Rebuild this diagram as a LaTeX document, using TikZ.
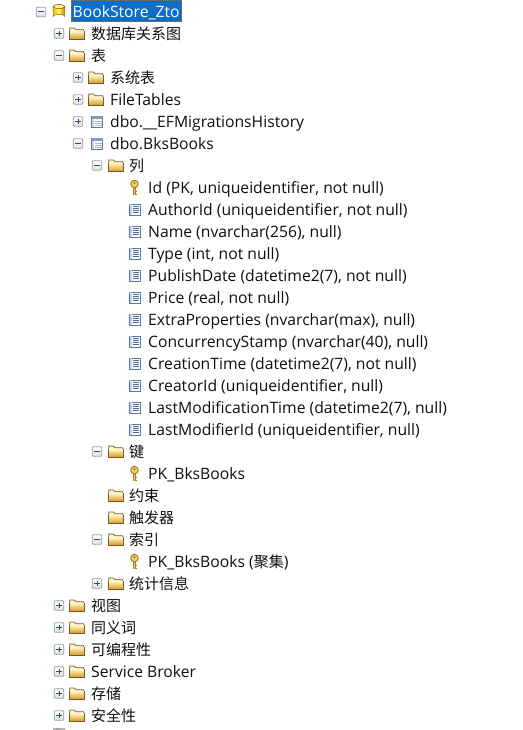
\documentclass[tikz,border=0pt]{standalone}
\usepackage{fontspec}
\setmainfont{Open Sans}
\newfontfamily\cjk[Scale=0.955]{Noto Sans CJK SC}
\usetikzlibrary{calc}
\definecolor{sel}{HTML}{0A6FC9}
\definecolor{boxl}{HTML}{9A9A9A}
\definecolor{sign}{HTML}{2C4A80}
\definecolor{txt}{HTML}{101010}
\definecolor{foldtop}{HTML}{FFF4C4}
\definecolor{foldbot}{HTML}{DC9A20}
\definecolor{foldedge}{HTML}{6E5A34}
\definecolor{keyedge}{HTML}{A87820}
\definecolor{keyfill}{HTML}{F4CC60}
\definecolor{coledge}{HTML}{5A78AC}
\definecolor{colline}{HTML}{4A6A9C}
\definecolor{colside}{HTML}{C4D4EC}
\tikzset{
  x=1pt,y=-1pt,
  lbl/.style={anchor=west,inner sep=0pt,text=txt,font=\fontsize{15.7}{18}\selectfont,text height=11.5pt,text depth=2pt},
  zh/.style={lbl,font=\fontsize{15.7}{18}\selectfont\cjk},
  pics/expbox/.style={code={
    \draw[boxl,line width=.8pt,rounded corners=.8pt,top color=white,bottom color=black!12] (-4.7,-4.7) rectangle (4.7,4.7);
    \draw[sign,line width=1pt] (-2.6,0) -- (2.6,0);
    \ifnum#1=1 \draw[sign,line width=1pt] (0,-2.6) -- (0,2.6);\fi
  }},
  pics/foldericon/.style={code={
    \fill[foldtop] (-7.3,-5.5) -- (-2.5,-5.5) -- (-1,-3.8) -- (6.8,-3.8) -- (6.8,0) -- (-7.3,0) -- cycle;
    \draw[foldedge,line width=.7pt] (-7.3,-2) -- (-7.3,-5.5) -- (-2.5,-5.5) -- (-1,-3.8) -- (6.8,-3.8) -- (6.8,-2);
    \fill[top color=foldtop,bottom color=foldbot] (-7.3,-2.2) -- (7.3,-2.2) -- (7.3,5.5) -- (-7.3,5.5) -- cycle;
    \draw[foldedge,line width=.7pt] (-7.3,-2.2) -- (-7.3,5.5) -- (7.3,5.5) -- (7.3,-2.2);
  }},
  pics/keyicon/.style={code={
    \draw[keyedge,line width=2.8pt] (-.5,-1) -- (-.5,7.5);
    \draw[keyfill,line width=1.4pt] (-.5,-1) -- (-.5,7.5);
    \draw[keyedge,line width=1.4pt] (0,4) -- (2.2,4) (0,6.8) -- (2.2,6.8);
    \draw[keyedge,fill=keyfill,line width=.9pt] (-.5,-3.5) circle (3.8);
    \fill[keyedge] (-.5,-4.6) circle (1.1);
  }},
  pics/colicon/.style={code={
    \draw[coledge,fill=white,line width=.8pt] (-5.3,-5.5) rectangle (5.3,5.5);
    \fill[colside] (-4.9,-5.1) rectangle (-2.8,5.1);
    \foreach \yy in {-3,-1,1,3}{\draw[colline,line width=.9pt] (-1.6,\yy) -- (3.6,\yy);}
  }},
  pics/tableicon/.style={code={
    \draw[coledge,fill=white,line width=.8pt] (-5.5,-5.5) rectangle (5.8,5.5);
    \fill[coledge!75] (-5.5,-5.5) rectangle (5.8,-2.8);
    \fill[colside] (-5.1,-2.8) rectangle (-2.8,5.1);
    \foreach \yy in {-.5,1.7,3.8}{\draw[colside!70!coledge,line width=.7pt] (-2.4,\yy) -- (5,\yy);}
  }},
  pics/dbicon/.style={code={
    \fill[left color=orange!55!yellow,right color=orange!85!black,middle color=yellow!65!white]
      (-5.8,-5) -- (-5.8,4.8) arc[start angle=180,end angle=360,x radius=5.8,y radius=2] -- (5.8,-5) -- cycle;
    \fill[yellow!50!white,draw=black!50!orange,line width=.5pt] (0,-5) ellipse[x radius=5.8,y radius=2];
    \draw[black!50,line width=.5pt] (-5.8,-5) -- (-5.8,4.8) arc[start angle=180,end angle=360,x radius=5.8,y radius=2] -- (5.8,-5);
  }},
}
% #1 row, #2 expander (0 none,1 plus,2 minus), #3 expander x, #4 icon pic, #5 icon x, #6 label style, #7 text x, #8 text
\newcommand{\TreeRow}[8]{%
  \ifnum#2=1 \pic at (#3,{11.5+22*#1}) {expbox=1};\fi
  \ifnum#2=2 \pic at (#3,{11.5+22*#1}) {expbox=0};\fi
  \pic at (#5,{11.5+22*#1}) {#4};
  \node[#6] (row#1) at (#7,{12.8+22*#1}) {#8};
}
\begin{document}
\begin{tikzpicture}
\useasboundingbox (0,0) rectangle (522,730);
\fill[white] (0,0) rectangle (522,730);
\fill[sel] (71,0) rectangle (182,22);
\draw[orange!80!black,line width=.7pt,dash pattern=on 1pt off 1pt] (71.4,.4) rectangle (181.6,21.6);
\pic at (41,12) {expbox=0};
\pic at (59,11.5) {dbicon};
\node[lbl,text=white] (row0) at (72.5,12.8) {BookStore\_Zto};
\TreeRow{1}{1}{59}{foldericon}{77}{zh}{91}{数据库关系图}
\TreeRow{2}{2}{59}{foldericon}{77}{zh}{91}{表}
\TreeRow{3}{1}{78}{foldericon}{96}{zh}{110}{系统表}
\TreeRow{4}{1}{78}{foldericon}{96}{lbl}{110}{FileTables}
\TreeRow{5}{1}{78}{tableicon}{97}{lbl}{110}{dbo.\_\_EFMigrationsHistory}
\TreeRow{6}{2}{78}{tableicon}{97}{lbl}{110}{dbo.BksBooks}
\TreeRow{7}{2}{97}{foldericon}{116}{zh}{129}{列}
\TreeRow{8}{0}{0}{keyicon}{135}{lbl}{148}{Id (PK, uniqueidentifier, not null)}
\TreeRow{9}{0}{0}{colicon}{135}{lbl}{148}{AuthorId (uniqueidentifier, not null)}
\TreeRow{10}{0}{0}{colicon}{135}{lbl}{148}{Name (nvarchar(256), null)}
\TreeRow{11}{0}{0}{colicon}{135}{lbl}{148}{Type (int, not null)}
\TreeRow{12}{0}{0}{colicon}{135}{lbl}{148}{PublishDate (datetime2(7), not null)}
\TreeRow{13}{0}{0}{colicon}{135}{lbl}{148}{Price (real, not null)}
\TreeRow{14}{0}{0}{colicon}{135}{lbl}{148}{ExtraProperties (nvarchar(max), null)}
\TreeRow{15}{0}{0}{colicon}{135}{lbl}{148}{ConcurrencyStamp (nvarchar(40), null)}
\TreeRow{16}{0}{0}{colicon}{135}{lbl}{148}{CreationTime (datetime2(7), not null)}
\TreeRow{17}{0}{0}{colicon}{135}{lbl}{148}{CreatorId (uniqueidentifier, null)}
\TreeRow{18}{0}{0}{colicon}{135}{lbl}{148}{LastModificationTime (datetime2(7), null)}
\TreeRow{19}{0}{0}{colicon}{135}{lbl}{148}{LastModifierId (uniqueidentifier, null)}
\TreeRow{20}{2}{97}{foldericon}{116}{zh}{129}{键}
\TreeRow{21}{0}{0}{keyicon}{135}{lbl}{148}{PK\_BksBooks}
\TreeRow{22}{0}{0}{foldericon}{116}{zh}{129}{约束}
\TreeRow{23}{0}{0}{foldericon}{116}{zh}{129}{触发器}
\TreeRow{24}{2}{97}{foldericon}{116}{zh}{129}{索引}
\TreeRow{25}{0}{0}{keyicon}{135}{lbl}{148}{PK\_BksBooks ({\cjk 聚集})}
\TreeRow{26}{1}{97}{foldericon}{116}{zh}{129}{统计信息}
\TreeRow{27}{1}{59}{foldericon}{77}{zh}{91}{视图}
\TreeRow{28}{1}{59}{foldericon}{77}{zh}{91}{同义词}
\TreeRow{29}{1}{59}{foldericon}{77}{zh}{91}{可编程性}
\TreeRow{30}{1}{59}{foldericon}{77}{lbl}{91}{Service Broker}
\TreeRow{31}{1}{59}{foldericon}{77}{zh}{91}{存储}
\TreeRow{32}{1}{59}{foldericon}{77}{zh}{91}{安全性}
\fill[black!35] (53,728.5) -- (58,728) -- (65,728.5) -- (65,730) -- (53,730) -- cycle;
\end{tikzpicture}
\end{document}
